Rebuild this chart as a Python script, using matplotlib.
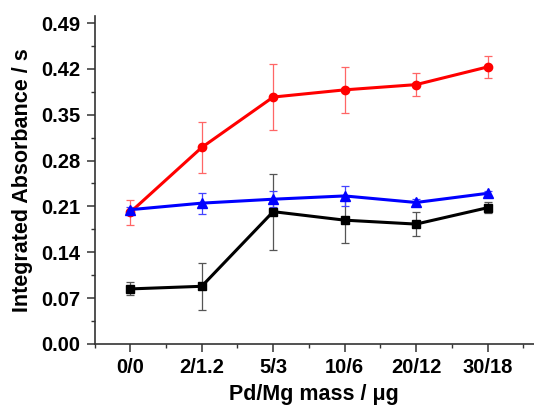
import numpy as np
import matplotlib
matplotlib.use("Agg")
import matplotlib.pyplot as plt
from matplotlib.ticker import MultipleLocator

plt.rcParams['font.family'] = ['Liberation Sans', 'DejaVu Sans']
plt.rcParams['font.weight'] = 'bold'

masses = ["0/0", "2/1.2", "5/3", "10/6", "20/12", "30/18"]

# integrated absorbance and standard deviations for the three series
red_vals = [0.201, 0.300, 0.377, 0.388, 0.396, 0.423]
red_err = [0.019, 0.039, 0.050, 0.035, 0.017, 0.017]
blue_vals = [0.205, 0.215, 0.221, 0.226, 0.216, 0.230]
blue_err = [0.004, 0.016, 0.012, 0.015, 0.005, 0.004]
black_vals = [0.084, 0.088, 0.202, 0.189, 0.183, 0.208]
black_err = [0.010, 0.036, 0.058, 0.035, 0.018, 0.008]

fig = plt.figure(figsize=(5.34, 4.07), dpi=100)
ax = fig.add_axes([0.177, 0.155, 0.823, 0.806])

x = np.arange(len(masses))

def draw(vals, err, color, ecolor, marker, ms):
    ax.errorbar(x, vals, yerr=err, color=color, ecolor=ecolor, marker=marker,
                ms=ms, lw=2.2, elinewidth=0.9, capsize=3, capthick=0.9)

draw(black_vals, black_err, 'black', '#555555', 's', 6)
draw(red_vals, red_err, 'red', '#ff6666', 'o', 6)
draw(blue_vals, blue_err, 'blue', '#4444ff', '^', 7)

ax.set_xlim(-0.5, 5.65)
ax.set_ylim(0, 0.501)
ax.set_xticks(x)
ax.set_xticklabels(masses)
ax.xaxis.set_minor_locator(MultipleLocator(0.5))
yt = np.arange(0, 0.50, 0.07)
ax.set_yticks(yt)
ax.set_yticklabels([f"{v:.2f}" for v in yt])
ax.yaxis.set_minor_locator(MultipleLocator(0.035))

for s in ['top', 'right']:
    ax.spines[s].set_visible(False)
for s in ['left', 'bottom']:
    ax.spines[s].set_linewidth(1.2)
    ax.spines[s].set_color('#333333')

ax.tick_params(which='major', direction='out', length=6, width=1.1, pad=4,
               labelsize=14.5, colors='#333333', labelcolor='black')
ax.tick_params(which='minor', direction='out', length=3, width=1.0, colors='#333333')

ax.set_xlabel("Pd/Mg mass / μg", fontsize=15.5, fontweight='bold', labelpad=5)
ax.set_ylabel("Integrated Absorbance / s", fontsize=15.5, fontweight='bold', labelpad=6)

fig.savefig("out.png", dpi=100)
